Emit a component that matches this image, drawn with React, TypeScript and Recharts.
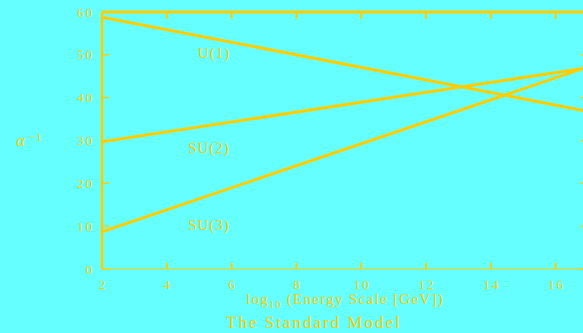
import { LineChart, Line, XAxis, YAxis } from 'recharts';

// log10 of the energy scale in GeV at the two ends of the plotted range
const energyLog = [2, 17];
// inverse couplings at those energies
const u1Inverse = [58.8, 36.8];
const su2Inverse = [29.7, 47.0];
const su3Inverse = [8.7, 47.2];

const xTicks = [2, 4, 6, 8, 10, 12, 14, 16];
const yTicks = [0, 10, 20, 30, 40, 50, 60];

const GOLD = '#FFCC00';
const CYAN = '#66FFFF';
const FONT = '"Liberation Serif", "Times New Roman", serif';

const rows = energyLog.map((x, i) => ({
  x,
  u1: u1Inverse[i],
  su2: su2Inverse[i],
  su3: su3Inverse[i],
}));

const BottomTick = ({ x, payload }: any) => (
  <text x={x + 1} y={289} textAnchor="middle" fill={GOLD} fontFamily={FONT} fontSize={13} letterSpacing={2}>
    {payload.value}
  </text>
);

const LeftTick = ({ y, payload }: any) => (
  <text x={94} y={y} dy="0.35em" textAnchor="end" fill={GOLD} fontFamily={FONT} fontSize={13} letterSpacing={2}>
    {payload.value}
  </text>
);

// mirrored axes keep their tick marks but carry no labels
const NoLabel = () => <g />;

export default function App() {
  return (
    <div style={{ position: 'fixed', left: 0, top: 0, width: 583, height: 333, overflow: 'hidden', background: CYAN }}>
      <div style={{ position: 'absolute', left: 0, top: 0 }}>
        {/* plot box: left 102, top 12, right 588, bottom 269 */}
        <LineChart width={600} height={333} data={rows} margin={{ top: 10, left: 62, right: 10, bottom: 34 }}>
          <XAxis
            type="number"
            dataKey="x"
            domain={[2, 17]}
            ticks={xTicks}
            height={30}
            allowDataOverflow
            axisLine={{ stroke: GOLD, strokeWidth: 1.2 }}
            tickLine={{ stroke: GOLD, strokeWidth: 2 }}
            tickSize={-6}
            tick={<BottomTick />}
            interval={0}
          />
          <XAxis
            xAxisId="top"
            orientation="top"
            type="number"
            dataKey="x"
            domain={[2, 17]}
            ticks={xTicks}
            height={2}
            allowDataOverflow
            axisLine={{ stroke: GOLD, strokeWidth: 3 }}
            tickLine={{ stroke: GOLD, strokeWidth: 2 }}
            tickSize={-7}
            tick={<NoLabel />}
            interval={0}
          />
          <YAxis
            type="number"
            domain={[0, 60]}
            ticks={yTicks}
            width={40}
            allowDataOverflow
            axisLine={{ stroke: GOLD, strokeWidth: 2.5 }}
            tickLine={{ stroke: GOLD, strokeWidth: 1.2 }}
            tickSize={-8}
            tick={<LeftTick />}
            interval={0}
          />
          <YAxis
            yAxisId="right"
            orientation="right"
            type="number"
            domain={[0, 60]}
            ticks={yTicks}
            width={2}
            allowDataOverflow
            axisLine={{ stroke: GOLD, strokeWidth: 2 }}
            tickLine={{ stroke: GOLD, strokeWidth: 1.2 }}
            tickSize={-8}
            tick={<NoLabel />}
            interval={0}
          />
          <Line dataKey="u1" stroke={GOLD} strokeWidth={3} dot={false} isAnimationActive={false} />
          <Line dataKey="su2" stroke={GOLD} strokeWidth={3} dot={false} isAnimationActive={false} />
          <Line dataKey="su3" stroke={GOLD} strokeWidth={3} dot={false} isAnimationActive={false} />
        </LineChart>
      </div>
      <svg width={583} height={333} style={{ position: 'absolute', left: 0, top: 0, pointerEvents: 'none' }}>
        <g fill={GOLD} fontFamily={FONT}>
          <text x={214} y={58} textAnchor="middle" fontSize={15} letterSpacing={1}>U(1)</text>
          <text x={209} y={153} textAnchor="middle" fontSize={15} letterSpacing={1}>SU(2)</text>
          <text x={209} y={230} textAnchor="middle" fontSize={15} letterSpacing={1}>SU(3)</text>
          <text x={16} y={146} fontSize={17} fontStyle="italic">α</text>
          <text x={29} y={141} fontSize={11} letterSpacing={1}>−1</text>
          <text x={246} y={304} fontSize={15} letterSpacing={1.3}>
            log
            <tspan fontSize={10} dy={4}>10</tspan>
            <tspan dy={-4}> (Energy Scale [GeV])</tspan>
          </text>
          <text x={226} y={328} fontSize={17} letterSpacing={2}>The Standard Model</text>
        </g>
      </svg>
    </div>
  );
}
